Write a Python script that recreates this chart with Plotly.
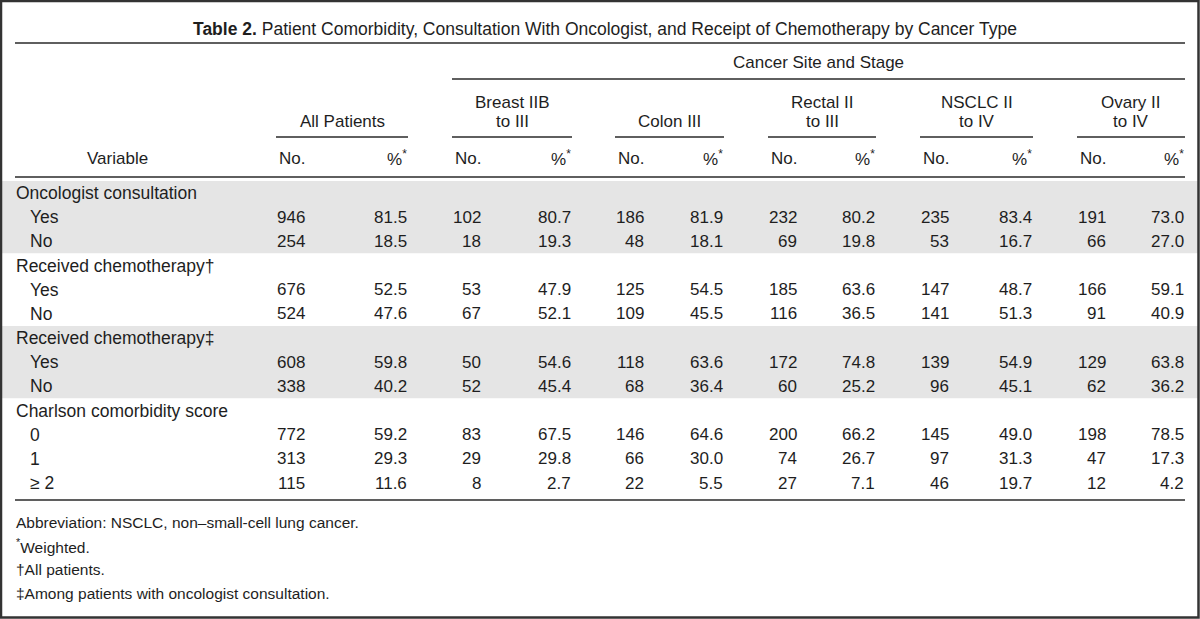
import plotly.graph_objects as go

# ---------------- data ----------------
title_bold = "Table 2."
title_rest = " Patient Comorbidity, Consultation With Oncologist, and Receipt of Chemotherapy by Cancer Type"
spanner = "Cancer Site and Stage"
groups = ["All Patients", "Breast IIB<br>to III", "Colon III", "Rectal II<br>to III", "NSCLC II<br>to IV", "Ovary II<br>to IV"]
var_header = "Variable"
no_header = "No."
pct_header = "%<sup>*</sup>"

sections = ["Oncologist consultation", "Received chemotherapy†", "Received chemotherapy‡", "Charlson comorbidity score"]
levels = [["Yes", "No"], ["Yes", "No"], ["Yes", "No"], ["0", "1", "≥ 2"]]

onc_yes_n = [946, 102, 186, 232, 235, 191]
onc_yes_p = [81.5, 80.7, 81.9, 80.2, 83.4, 73.0]
onc_no_n = [254, 18, 48, 69, 53, 66]
onc_no_p = [18.5, 19.3, 18.1, 19.8, 16.7, 27.0]

chemo_all_yes_n = [676, 53, 125, 185, 147, 166]
chemo_all_yes_p = [52.5, 47.9, 54.5, 63.6, 48.7, 59.1]
chemo_all_no_n = [524, 67, 109, 116, 141, 91]
chemo_all_no_p = [47.6, 52.1, 45.5, 36.5, 51.3, 40.9]

chemo_onc_yes_n = [608, 50, 118, 172, 139, 129]
chemo_onc_yes_p = [59.8, 54.6, 63.6, 74.8, 54.9, 63.8]
chemo_onc_no_n = [338, 52, 68, 60, 96, 62]
chemo_onc_no_p = [40.2, 45.4, 36.4, 25.2, 45.1, 36.2]

charl_0_n = [772, 83, 146, 200, 145, 198]
charl_0_p = [59.2, 67.5, 64.6, 66.2, 49.0, 78.5]
charl_1_n = [313, 29, 66, 74, 97, 47]
charl_1_p = [29.3, 29.8, 30.0, 26.7, 31.3, 17.3]
charl_2_n = [115, 8, 22, 27, 46, 12]
charl_2_p = [11.6, 2.7, 5.5, 7.1, 19.7, 4.2]

level_values = [
    [(onc_yes_n, onc_yes_p), (onc_no_n, onc_no_p)],
    [(chemo_all_yes_n, chemo_all_yes_p), (chemo_all_no_n, chemo_all_no_p)],
    [(chemo_onc_yes_n, chemo_onc_yes_p), (chemo_onc_no_n, chemo_onc_no_p)],
    [(charl_0_n, charl_0_p), (charl_1_n, charl_1_p), (charl_2_n, charl_2_p)],
]
shaded_sections = [0, 2]

footnotes = [
    "Abbreviation: NSCLC, non–small-cell lung cancer.",
    "<sup>*</sup>Weighted.",
    "†All patients.",
    "‡Among patients with oncologist consultation.",
]

# ---------------- layout constants ----------------
W, H = 1200, 619
FONT = "Liberation Sans, Arial, sans-serif"
TXT = "#1e1e1e"
LINE = "#2a2a2a"
GREY = "#e5e5e5"
FS = 17
FS_LABEL = 17.5
FS_FOOT = 15.5
FS_TITLE = 17.5
X_L, X_R = 15, 1185
grp_left = [276, 452, 615, 768, 920, 1077]
grp_right = [408, 572, 724, 876, 1033, 1185]
NO_OFF = 30
Y_TITLE, Y_RULE1 = 29, 43
Y_SPAN, Y_SPANLINE = 62, 79
Y_GRP2, Y_GRP1, Y_GRPLINE = 121, 102, 137
Y_COLHDR, Y_RULE2 = 158, 177
ROW0, ROWH = 193, 24.17
FOOT0, FOOTH = 522, 23.7

fig = go.Figure()
ann = []
shapes = []


def txt(x, y, s, xa="left", size=FS, color=TXT):
    ann.append(dict(x=x, y=y, xref="x", yref="y", text=s, showarrow=False,
                    xanchor=xa, yanchor="middle", align=xa if xa != "center" else "center",
                    borderpad=0, font=dict(family=FONT, size=size, color=color)))


def hline(x0, x1, y, w=1.6):
    shapes.append(dict(type="line", xref="x", yref="y", x0=x0, x1=x1, y0=y, y1=y,
                       line=dict(color=LINE, width=w), layer="above"))


# frame
shapes.append(dict(type="rect", xref="x", yref="y", x0=1, x1=W - 1.5, y0=1, y1=H - 1.5,
                   line=dict(color="#333333", width=2.5), layer="above"))

# title
txt(605, Y_TITLE, f"<b>{title_bold}</b>{title_rest}", xa="center", size=FS_TITLE)
hline(X_L, X_R, Y_RULE1)

# spanner
txt((grp_left[1] + X_R) / 2, Y_SPAN, spanner, xa="center")
hline(grp_left[1], X_R, Y_SPANLINE)

# group headers
for g, lab in enumerate(groups):
    cx = (grp_left[g] + grp_right[g]) / 2
    if "<br>" in lab:
        a, b = lab.split("<br>")
        txt(cx, Y_GRP1, a, xa="center")
        txt(cx, Y_GRP2, b, xa="center")
    else:
        txt(cx, Y_GRP2, lab, xa="center")
    hline(grp_left[g], grp_right[g], Y_GRPLINE)
    txt(grp_left[g] + 2, Y_COLHDR, no_header, xa="left")
    txt(grp_right[g], Y_COLHDR, pct_header, xa="right")

txt(117, Y_COLHDR, var_header, xa="center")
hline(X_L, X_R, Y_RULE2)

# body
r = 0
for s, sec in enumerate(sections):
    y_sec = ROW0 + r * ROWH
    n_rows = 1 + len(levels[s])
    if s in shaded_sections:
        shapes.append(dict(type="rect", xref="x", yref="y", x0=2, x1=W - 2,
                           y0=y_sec - 12, y1=y_sec + (n_rows - 1) * ROWH + 12,
                           fillcolor=GREY, line=dict(width=0), layer="below"))
    txt(X_L, y_sec, sec, size=FS_LABEL)
    r += 1
    for li, lev in enumerate(levels[s]):
        y = ROW0 + r * ROWH
        txt(X_L + 14, y, lev, size=FS_LABEL)
        ns, ps = level_values[s][li]
        for g in range(len(groups)):
            txt(grp_left[g] + NO_OFF, y, str(ns[g]), xa="right")
            txt(grp_right[g], y, f"{ps[g]:.1f}", xa="right")
        r += 1

Y_RULE3 = ROW0 + (r - 1) * ROWH + 17
hline(X_L, X_R, Y_RULE3)

for i, fn in enumerate(footnotes):
    txt(X_L, FOOT0 + i * FOOTH, fn, size=FS_FOOT)

# invisible trace to establish axes
fig.add_trace(go.Scatter(x=[0, W], y=[0, H], mode="markers", marker=dict(opacity=0),
                         hoverinfo="skip", showlegend=False))

fig.update_layout(
    width=W, height=H, margin=dict(l=0, r=0, t=0, b=0),
    paper_bgcolor="white", plot_bgcolor="white",
    xaxis=dict(range=[0, W], visible=False, fixedrange=True),
    yaxis=dict(range=[H, 0], visible=False, fixedrange=True),
    annotations=ann, shapes=shapes, showlegend=False,
)

fig.write_html("out.html", config={"displayModeBar": False},
               post_script="document.body.style.margin='0px';document.body.style.overflow='hidden';")
